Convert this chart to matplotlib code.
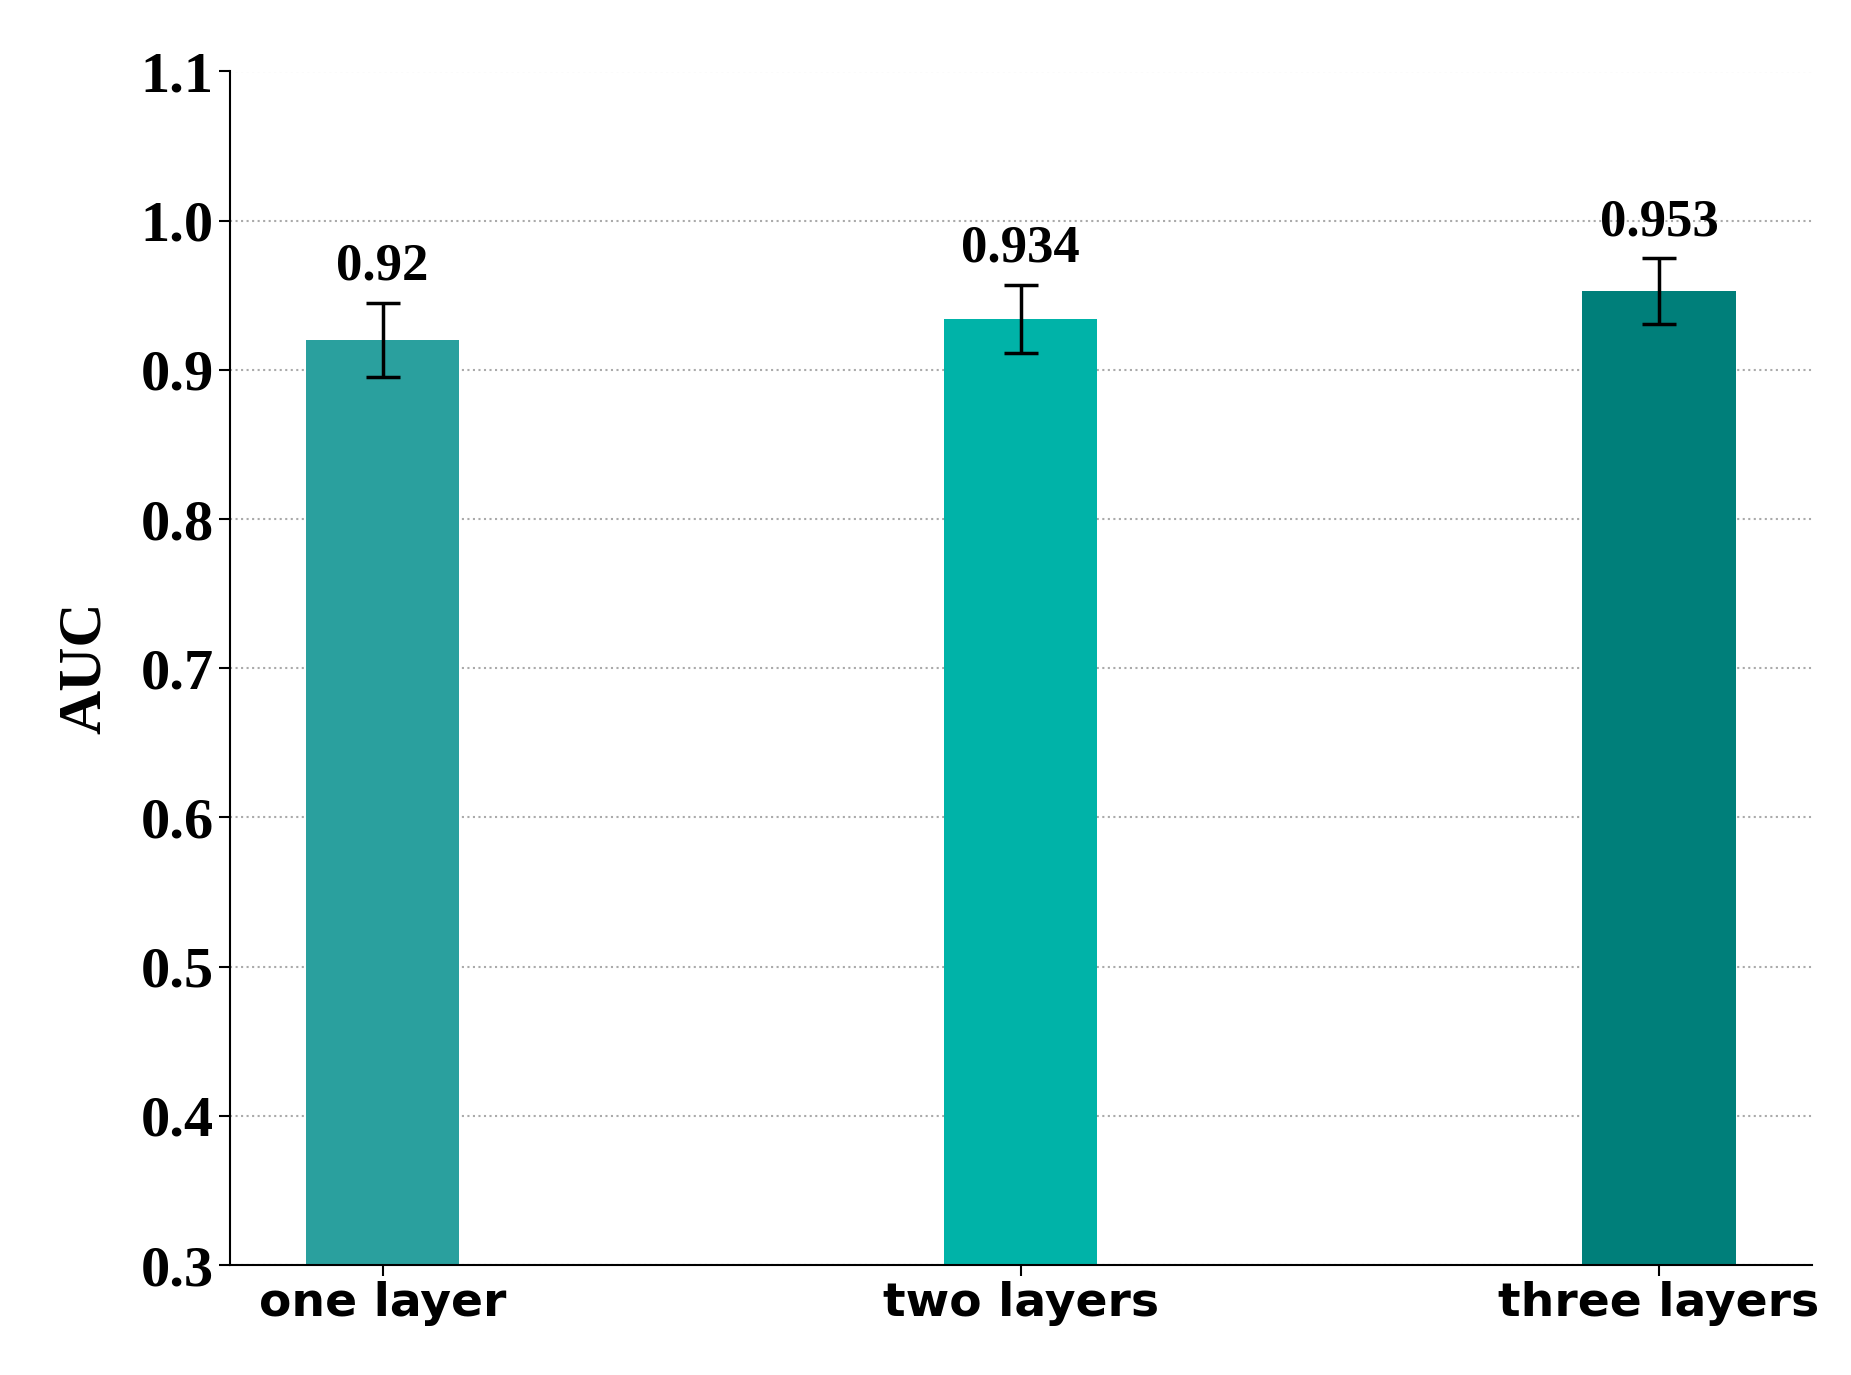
import matplotlib
matplotlib.use("Agg")
import matplotlib.pyplot as plt

categories = ["one layer", "two layers", "three layers"]
auc = [0.92, 0.934, 0.953]
err = [0.025, 0.023, 0.022]
labels = ["0.92", "0.934", "0.953"]
colors = ["#2aa09e", "#00b3a8", "#007f7a"]

fig = plt.figure(figsize=(18.51, 13.75), dpi=100)
ax = fig.add_axes([0.124, 0.08, 0.855, 0.868])
x = range(len(categories))
ax.bar(x, [v - 0.3 for v in auc], bottom=0.3, width=0.24, color=colors, zorder=2)
ax.errorbar(x, auc, yerr=err, fmt="none", ecolor="black", elinewidth=2.5,
            capsize=12, capthick=2.5, zorder=3)
for i, (v, e, t) in enumerate(zip(auc, err, labels)):
    ax.text(i, v + e + 0.008, t, ha="center", va="bottom", fontsize=38,
            fontweight="bold", family="Liberation Serif")

ax.set_xlim(-0.24, 2.24)
ax.set_ylim(0.3, 1.1)
ax.set_yticks([0.3 + 0.1 * k for k in range(9)])
ax.set_yticklabels([f"{0.3 + 0.1 * k:.1f}" for k in range(9)], fontsize=42,
                   fontweight="bold", family="Liberation Serif")
ax.set_xticks(list(x))
ax.set_xticklabels(categories, fontsize=34, fontweight="bold", family="DejaVu Sans")
ax.tick_params(axis="both", width=1.5, length=8)
ax.set_ylabel("AUC", fontsize=44, fontweight="bold", family="Liberation Serif", labelpad=20)
ax.yaxis.grid(True, linestyle=":", color="#aaaaaa", lw=1.5, zorder=0)
ax.spines["top"].set_visible(False)
ax.spines["right"].set_visible(False)
for s in ("left", "bottom"):
    ax.spines[s].set_linewidth(1.5)
fig.savefig("out.png", dpi=100)
